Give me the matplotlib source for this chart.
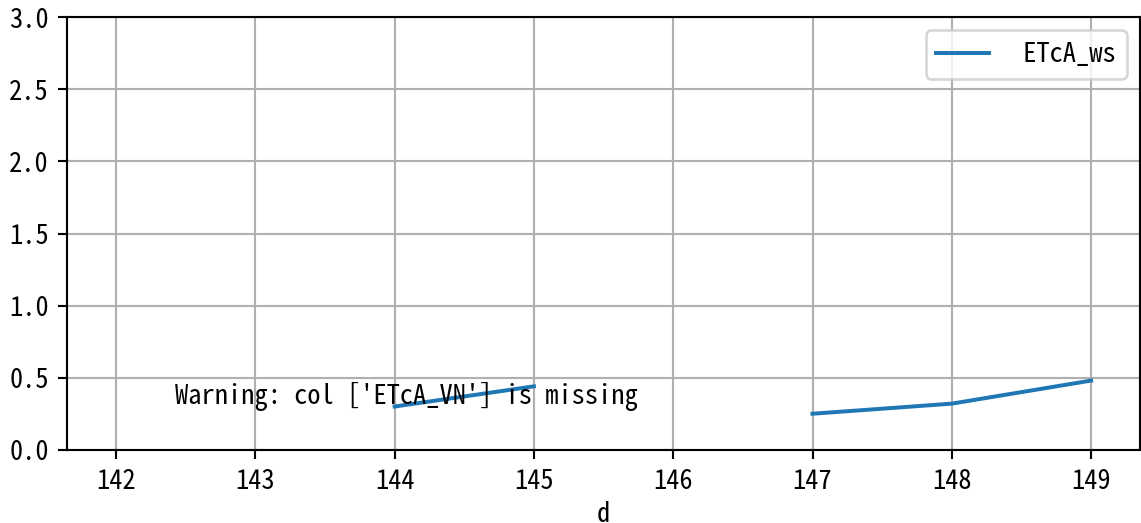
import numpy as np
import matplotlib
matplotlib.use("Agg")
import matplotlib.pyplot as plt

plt.rcParams['font.family'] = ['Noto Sans Mono CJK SC', 'Liberation Mono', 'DejaVu Sans']
plt.rcParams['axes.unicode_minus'] = False

# data
days = [142, 143, 144, 145, 146, 147, 148, 149]
etca_ws = [np.nan, np.nan, 0.30, 0.44, np.nan, 0.25, 0.32, 0.48]
warning_text = "Warning: col ['ETcA_VN'] is missing"

dpi = 190
fig, ax = plt.subplots(figsize=(1141 / dpi, 523 / dpi), dpi=dpi)
ax.plot(days, etca_ws, color='#1f77b4', label=' ETcA_ws')
ax.text(142.42, 0.36, warning_text, va='center', ha='left')

ax.set_xlim(141.65, 149.35)
ax.set_ylim(0, 3.0)
ax.set_yticks(np.arange(0, 3.01, 0.5))
ax.set_xlabel('d', labelpad=2)
ax.grid(True)
ax.legend(loc='upper right')

fig.subplots_adjust(left=0.059, right=0.999, top=0.967, bottom=0.14)
fig.savefig('out.png')
